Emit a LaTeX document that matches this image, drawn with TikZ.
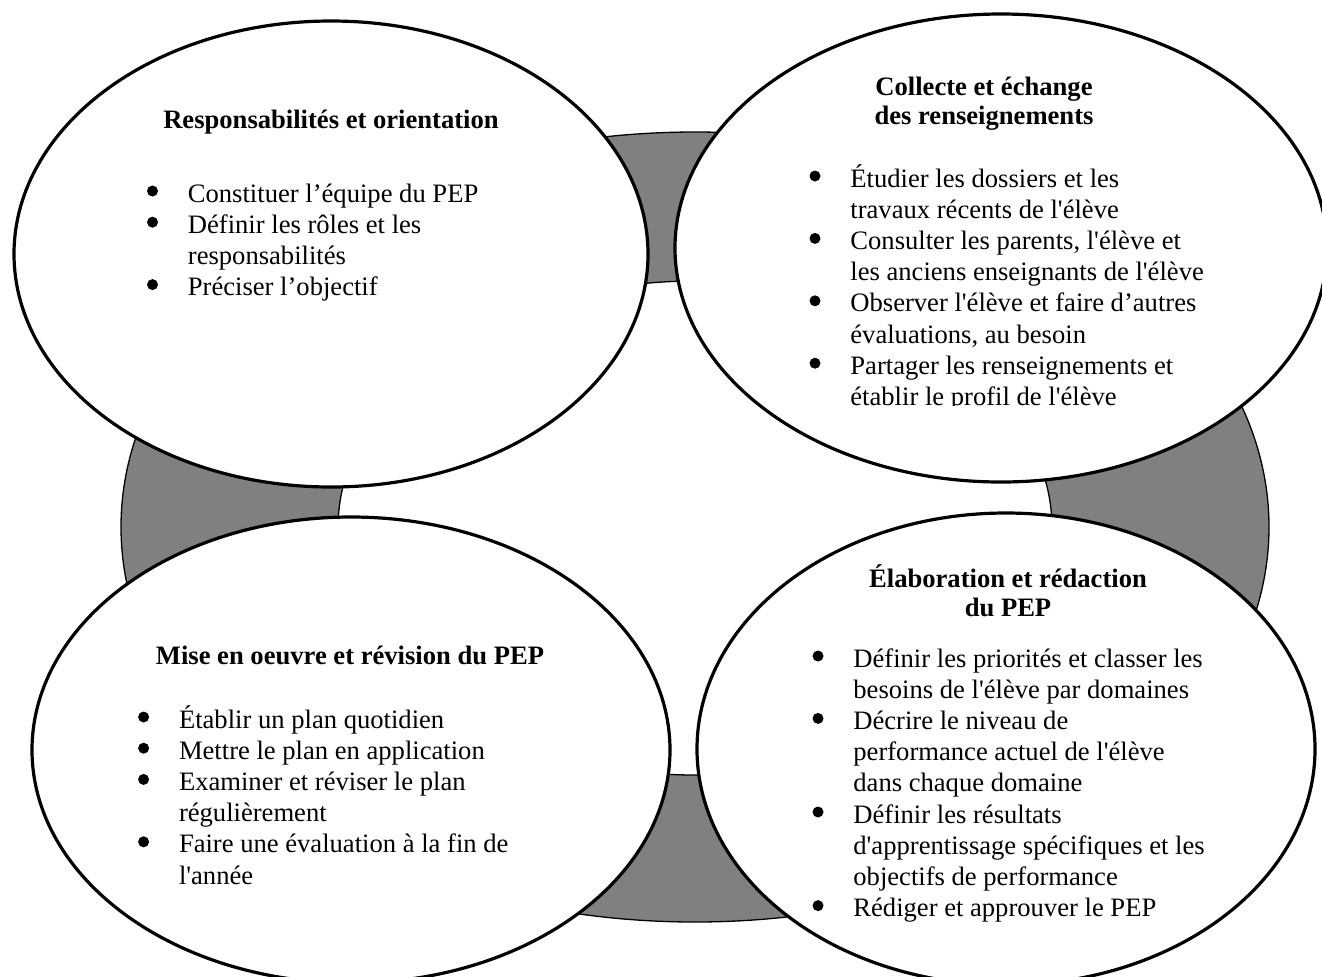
\documentclass[tikz,border=0pt]{standalone}
\usepackage{fontspec}
\setmainfont{Liberation Serif}
\usetikzlibrary{shapes.geometric}
\newcommand{\ap}{\textquotesingle}
\newcommand{\listbox}[1]{\parbox[t]{230pt}{\raggedright #1}}
\newcommand{\titlebox}[1]{\parbox[t]{200pt}{\centering #1}}

\tikzset{
    stage/.style = {draw, ellipse, fill=white, line width=1.6pt, inner sep=0pt},
    ring/.style = {fill=gray, draw=black, line width=0.65pt, even odd rule},
    stagetitle/.style = {font=\bfseries\fontsize{13.3}{14.75}\selectfont, anchor=base, inner sep=0pt},
    points/.style = {font=\fontsize{13.3}{15.6}\selectfont, anchor=base west, inner sep=0pt},
    dot/.style = {fill=black}
}

\begin{document}
\begin{tikzpicture}[x=0.5pt, y=-0.5pt]
    \useasboundingbox (0,0) rectangle (1322,976);
    \clip (0,0) rectangle (1322,976);

    % grey ring behind the stages
    \path[ring] (695,527) ellipse [x radius=574, y radius=395]
                (695,528) ellipse [x radius=357, y radius=247];

    \node[stage, minimum width=317pt, minimum height=233pt] (resp) at (331,254) {};
    \node[stage, minimum width=326pt, minimum height=234pt] (collecte) at (1001,248) {};
    \node[stage, minimum width=319pt, minimum height=233pt] (mise) at (351,750) {};
    \node[stage, minimum width=309pt, minimum height=236pt] (elab) at (1006,749) {};

    % top left
    \node[stagetitle] (resp-t) at (331,128) {\titlebox{Responsabilités et orientation}};
    \coordinate (resp-p) at (187.5,202);
    \node[points] (resp-l) at (resp-p) {\listbox{Constituer l’équipe du PEP\\
        Définir les rôles et les\\responsabilités\\Préciser l’objectif}};
    \foreach \k in {0,1,3}
        \fill[dot] ([shift={(-35,31.2*\k-11)}]resp-p) circle (5.5);

    % top right
    \node[stagetitle] (collecte-t) at (984,95) {\titlebox{Collecte et échange\\des renseignements}};
    \coordinate (collecte-p) at (850,187);
    \begin{scope}
        \clip (0,0) rectangle (1322,405);
        \node[points] (collecte-l) at (collecte-p) {\listbox{Étudier les dossiers et les\\
            travaux récents de l\ap élève\\Consulter les parents, l\ap élève et\\
            les anciens enseignants de l\ap élève\\Observer l\ap élève et faire d’autres\\
            évaluations, au besoin\\Partager les renseignements et\\
            établir le profil de l\ap élève}};
    \end{scope}
    \foreach \k in {0,2,4,6}
        \fill[dot] ([shift={(-35,31.2*\k-11)}]collecte-p) circle (5.5);

    % bottom left
    \node[stagetitle] (mise-t) at (350,664) {\titlebox{Mise en oeuvre et révision du PEP}};
    \coordinate (mise-p) at (178.6,728);
    \node[points] (mise-l) at (mise-p) {\listbox{Établir un plan quotidien\\
        Mettre le plan en application\\Examiner et réviser le plan\\
        régulièrement\\Faire une évaluation à la fin de\\l\ap année}};
    \foreach \k in {0,1,2,4}
        \fill[dot] ([shift={(-35,31.2*\k-11)}]mise-p) circle (5.5);

    % bottom right
    \node[stagetitle] (elab-t) at (1008,587) {\titlebox{Élaboration et rédaction\\du PEP}};
    \coordinate (elab-p) at (853,667);
    \node[points] (elab-l) at (elab-p) {\listbox{Définir les priorités et classer les\\
        besoins de l\ap élève par domaines\\Décrire le niveau de\\
        performance actuel de l\ap élève\\dans chaque domaine\\
        Définir les résultats\\d\ap apprentissage spécifiques et les\\
        objectifs de performance\\Rédiger et approuver le PEP}};
    \foreach \k in {0,2,5,8}
        \fill[dot] ([shift={(-35,31.2*\k-11)}]elab-p) circle (5.5);
\end{tikzpicture}
\end{document}
